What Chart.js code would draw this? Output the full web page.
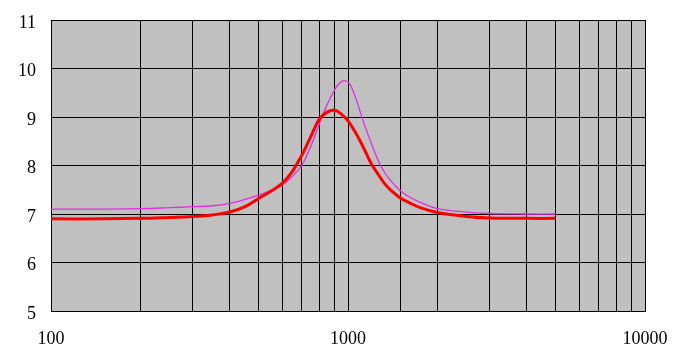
<!DOCTYPE html>
<html>
<head>
<meta charset="utf-8">
<script src="https://cdn.jsdelivr.net/npm/chart.js@4"></script>
<style>
  body { margin: 0; background: #fff; }
  #wrap { width: 685px; height: 357px; }
</style>
</head>
<body>
<div id="wrap"><canvas id="chart"></canvas></div>
<script>
// frequency points (x, log axis)
const freqs = [100, 150, 200, 250, 300, 350, 400, 450, 500, 550, 600, 650, 700, 750, 800, 850, 900, 950, 1000, 1050, 1100, 1150, 1200, 1260, 1330, 1400, 1500, 1600, 1750, 2000, 2500, 3000, 4000, 5000];
// red (thick) curve
const redVals = [6.90, 6.90, 6.91, 6.93, 6.95, 6.98, 7.04, 7.15, 7.32, 7.47, 7.63, 7.88, 8.22, 8.60, 8.95, 9.10, 9.14, 9.06, 8.92, 8.72, 8.50, 8.26, 8.03, 7.83, 7.62, 7.48, 7.33, 7.24, 7.13, 7.03, 6.95, 6.92, 6.91, 6.91];
// magenta (thin) curve
const pinkVals = [7.10, 7.10, 7.11, 7.13, 7.15, 7.17, 7.22, 7.30, 7.39, 7.49, 7.60, 7.78, 8.01, 8.40, 8.85, 9.25, 9.55, 9.73, 9.72, 9.47, 9.10, 8.75, 8.45, 8.12, 7.85, 7.67, 7.48, 7.36, 7.24, 7.11, 7.04, 7.01, 7.00, 7.00];
const xTickLabels = [100, 1000, 10000];

const toPoints = (vals) => freqs.map((f, i) => ({ x: f, y: vals[i] }));

const plotBg = {
  id: "plotBg",
  beforeDraw(chart) {
    const a = chart.chartArea;
    const ctx = chart.ctx;
    ctx.save();
    ctx.fillStyle = "#c0c0c0";
    ctx.fillRect(a.left, a.top, a.right - a.left, a.bottom - a.top);
    ctx.restore();
  },
};

new Chart(document.getElementById("chart"), {
  type: "line",
  data: {
    datasets: [
      {
        data: toPoints(redVals),
        borderColor: "#ff0000",
        borderWidth: 3,
        pointRadius: 0,
        tension: 0.4,
      },
      {
        data: toPoints(pinkVals),
        borderColor: "#e22ee2",
        borderWidth: 1.3,
        pointRadius: 0,
        tension: 0.4,
      },
    ],
  },
  options: {
    responsive: true,
    maintainAspectRatio: false,
    animation: false,
    layout: { padding: { left: 0, right: 40, top: 20, bottom: 0 } },
    plugins: { legend: { display: false }, tooltip: { enabled: false } },
    scales: {
      x: {
        type: "logarithmic",
        min: 100,
        max: 10000,
        grid: { color: "#000", lineWidth: 1, drawTicks: false },
        border: { color: "#000", width: 1 },
        ticks: {
          color: "#000",
          font: { family: "Liberation Serif", size: 18 },
          padding: 17,
          autoSkip: false,
          maxRotation: 0,
          callback: (v) => (xTickLabels.includes(v) ? String(v) : ""),
        },
        afterFit: (s) => {
          s.height = 46;
          s.paddingLeft = 0;
          s.paddingRight = 0;
        },
      },
      y: {
        min: 5,
        max: 11,
        grid: { color: "#000", lineWidth: 1, drawTicks: false },
        border: { color: "#000", width: 1 },
        ticks: {
          stepSize: 1,
          color: "#000",
          font: { family: "Liberation Serif", size: 18 },
          padding: 15,
          labelOffset: 3,
        },
        afterFit: (s) => {
          s.width = 51;
          s.paddingTop = 0;
          s.paddingBottom = 0;
        },
      },
    },
  },
  plugins: [plotBg],
});
</script>
</body>
</html>
